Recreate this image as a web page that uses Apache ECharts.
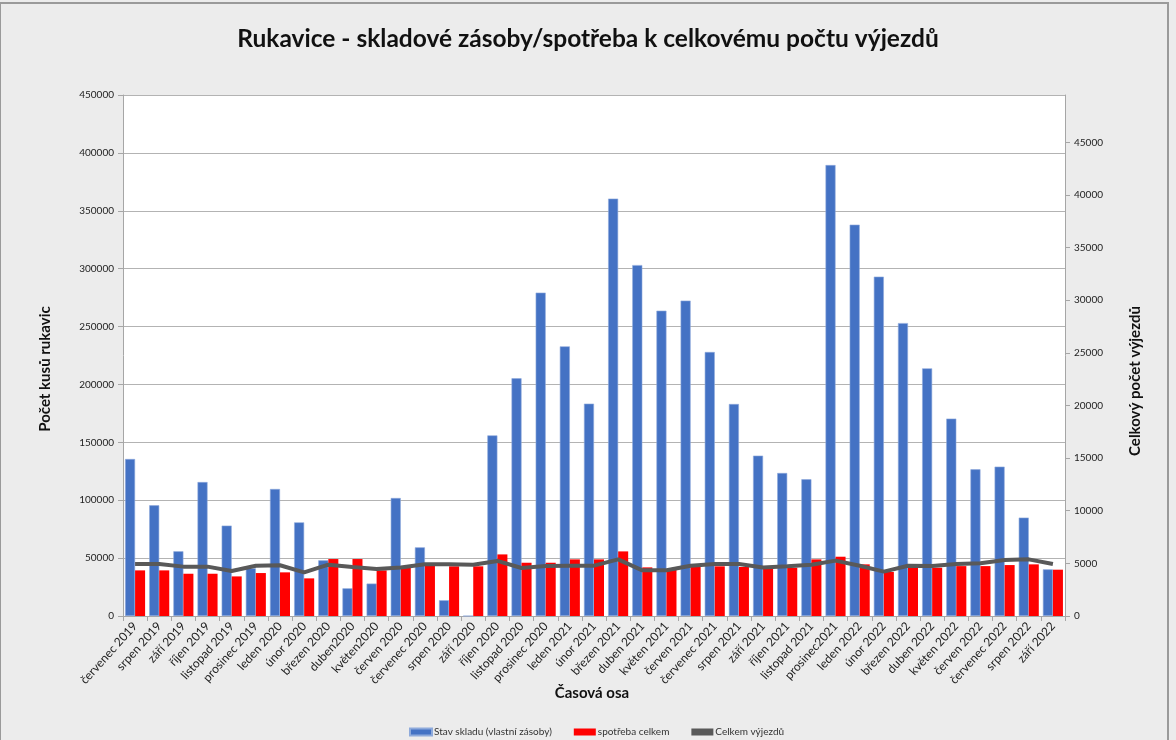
<!DOCTYPE html>
<html>
<head>
<meta charset="utf-8">
<script src="https://cdn.jsdelivr.net/npm/echarts@6/dist/echarts.min.js"></script>
<style>
html,body{margin:0;padding:0;background:#ececec;}
#c{width:1176px;height:740px;}
</style>
</head>
<body>
<div id="c"></div>
<script>
const categories = ['červenec 2019','srpen 2019','září 2019','říjen 2019','listopad 2019','prosinec 2019','leden 2020','únor 2020','březen 2020','duben2020','květen2020','červen 2020','červenec 2020','srpen 2020','září 2020','říjen 2020','listopad 2020','prosinec 2020','leden 2021','únor 2021','březen 2021','duben 2021','květen 2021','červen 2021','červenec 2021','srpen 2021','září 2021','říjen 2021','listopad 2021','prosinec2021','leden 2022','únor 2022','březen 2022','duben 2022','květen 2022','červen 2022','červenec 2022','srpen 2022','září 2022'];

const stavSkladu = [135600, 95600, 55900, 115700, 78100, 41200, 109700, 80900, 48100, 23900, 28000, 101900, 59300, 13600, 0, 156000, 205300, 279300, 232900, 183400, 360500, 303100, 263700, 272400, 228000, 183100, 138500, 123500, 118100, 389500, 338000, 293100, 253000, 213900, 170500, 126700, 129000, 85000, 40300];

const spotreba = [39400, 39400, 36500, 36500, 34200, 37100, 37700, 32500, 49200, 49200, 39400, 41700, 44600, 42900, 42900, 53200, 46000, 46000, 48900, 48900, 55800, 42000, 40000, 42300, 42900, 42300, 40900, 41700, 48900, 51200, 44600, 38000, 41700, 41700, 43100, 43100, 44000, 44600, 40000];

const vyjezdy = [4940, 4940, 4690, 4690, 4280, 4780, 4820, 4150, 4880, 4660, 4470, 4600, 4910, 4910, 4870, 5230, 4560, 4750, 4780, 4780, 5380, 4340, 4340, 4780, 4940, 4940, 4600, 4720, 4870, 5260, 4780, 4220, 4780, 4750, 4940, 5010, 5320, 5380, 4940];

const leftTicks = {min: 0, max: 450000, interval: 50000};
const rightTicks = {min: 0, max: 49500, interval: 5000};

const FONT = 'Lato';
const plain = v => String(v);
const chart = echarts.init(document.getElementById('c'), null, {renderer: 'canvas'});
chart.setOption({
  backgroundColor: '#ececec',
  textStyle: {fontFamily: FONT},
  animation: false,
  title: {
    text: 'Rukavice - skladové zásoby/spotřeba k celkovému počtu výjezdů',
    left: 'center', top: 22,
    textStyle: {fontFamily: FONT, fontSize: 24.5, fontWeight: 'bold', color: '#111'}
  },
  graphic: [
    {type: 'rect', shape: {x: 0, y: 3, width: 1168, height: 745}, style: {fill: 'none', stroke: '#9a9a9a', lineWidth: 2}, silent: true},
    {type: 'text', x: 45, y: 369, rotation: Math.PI/2,
     style: {text: 'Počet kusů rukavic', font: 'bold 15px ' + FONT, fill: '#111', align: 'center', verticalAlign: 'middle'}},
    {type: 'text', x: 1135, y: 381, rotation: Math.PI/2,
     style: {text: 'Celkový počet výjezdů', font: 'bold 15px ' + FONT, fill: '#111', align: 'center', verticalAlign: 'middle'}},
    {type: 'text', x: 592, y: 693,
     style: {text: 'Časová osa', font: 'bold 15px ' + FONT, fill: '#111', align: 'center', verticalAlign: 'middle'}}
  ],
  legend: {
    left: 404, top: 722,
    itemWidth: 22, itemHeight: 7, itemGap: 22,
    icon: 'rect',
    textStyle: {fontFamily: FONT, fontSize: 10, color: '#333', padding: [0,0,0,-3]},
    data: ['Stav skladu (vlastní zásoby)', 'spotřeba celkem', 'Celkem výjezdů']
  },
  grid: {left: 123, right: 111, top: 95, bottom: 124, show: true, backgroundColor: '#ffffff', borderWidth: 0},
  xAxis: {
    type: 'category', data: categories,
    axisLine: {lineStyle: {color: '#a6a6a6'}},
    axisTick: {show: true, length: 5, lineStyle: {color: '#a6a6a6'}},
    axisLabel: {rotate: 48, fontSize: 12, color: '#222', margin: 8, interval: 0, fontFamily: FONT}
  },
  yAxis: [
    {type: 'value', min: leftTicks.min, max: leftTicks.max, interval: leftTicks.interval,
     axisLine: {show: true, lineStyle: {color: '#a6a6a6'}},
     axisTick: {show: true, length: 5, lineStyle: {color: '#a6a6a6'}},
     axisLabel: {fontSize: 10, color: '#222', margin: 9, fontFamily: FONT, formatter: plain},
     splitLine: {show: true, lineStyle: {color: '#b3b3b3', width: 1}}},
    {type: 'value', position: 'right', min: rightTicks.min, max: rightTicks.max, interval: rightTicks.interval,
     axisLine: {show: true, lineStyle: {color: '#a6a6a6'}},
     axisTick: {show: true, length: 5, lineStyle: {color: '#a6a6a6'}},
     axisLabel: {fontSize: 10, color: '#222', margin: 9, showMaxLabel: false, fontFamily: FONT, formatter: plain},
     splitLine: {show: false}}
  ],
  series: [
    {name: 'Stav skladu (vlastní zásoby)', type: 'bar', data: stavSkladu, yAxisIndex: 0,
     barGap: '0%', barCategoryGap: '17%',
     itemStyle: {color: '#4472c4', borderColor: '#8eaadb', borderWidth: 0.6}},
    {name: 'spotřeba celkem', type: 'bar', data: spotreba, yAxisIndex: 0,
     barGap: '0%', barCategoryGap: '17%',
     itemStyle: {color: '#ff0000'}},
    {name: 'Celkem výjezdů', type: 'line', data: vyjezdy, yAxisIndex: 1,
     showSymbol: false, symbol: 'none', z: 5,
     lineStyle: {color: '#595959', width: 4}, itemStyle: {color: '#595959'}}
  ]
});
</script>
</body>
</html>
